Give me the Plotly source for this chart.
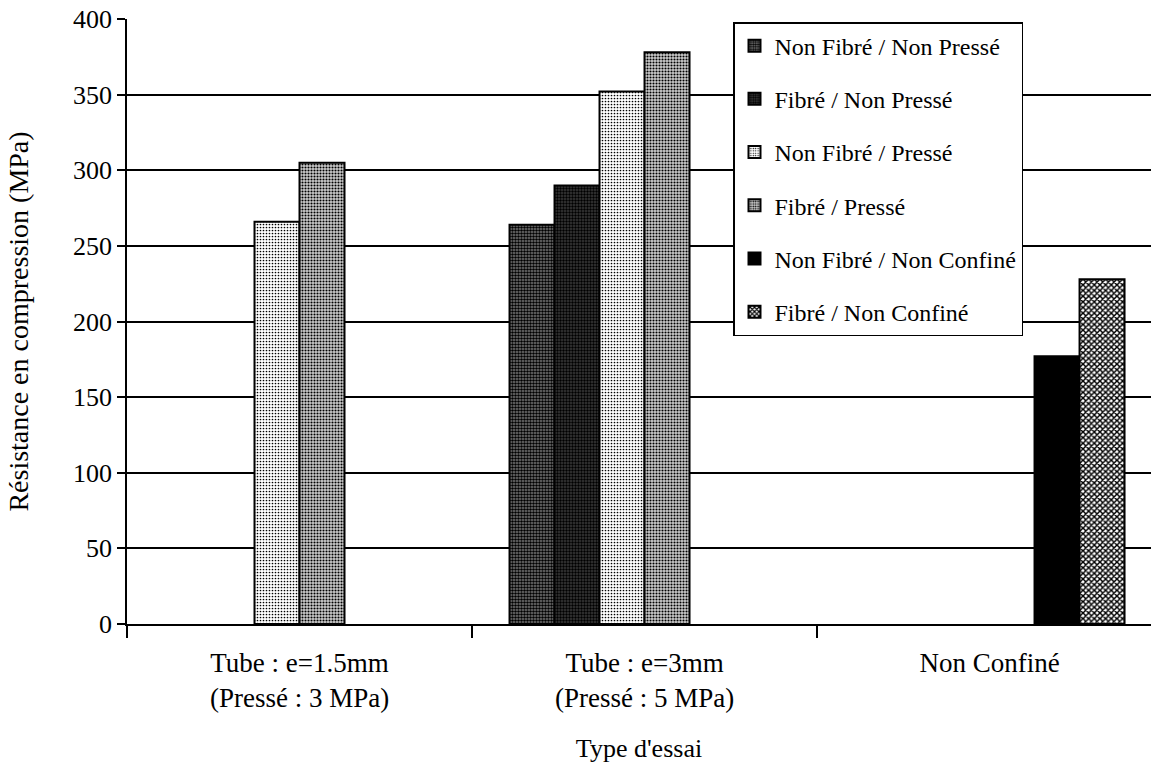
import plotly.graph_objects as go

categories = ["Tube : e=1.5mm<br>(Pressé : 3 MPa)",
              "Tube : e=3mm<br>(Pressé : 5 MPa)",
              "Non Confiné"]

series_names = ["Non Fibré / Non Pressé",
                "Fibré / Non Pressé",
                "Non Fibré / Pressé",
                "Fibré / Pressé",
                "Non Fibré / Non Confiné",
                "Fibré / Non Confiné"]

nf_np = [None, 264, None]
f_np = [None, 290, None]
nf_p = [266, 352, None]
f_p = [305, 378, None]
nf_nc = [None, None, 177]
f_nc = [None, None, 228]
values = [nf_np, f_np, nf_p, f_p, nf_nc, f_nc]

y_ticks = [0, 50, 100, 150, 200, 250, 300, 350, 400]

styles = [
    dict(color="#666666", pattern=dict(shape=".", fgcolor="#000000", bgcolor="#7a7a7a", size=3, solidity=0.55, fillmode="replace")),
    dict(color="#333333", pattern=dict(shape=".", fgcolor="#000000", bgcolor="#3a3a3a", size=3, solidity=0.5, fillmode="replace")),
    dict(color="#ffffff", pattern=dict(shape=".", fgcolor="#000000", bgcolor="#ffffff", size=3, solidity=0.25, fillmode="replace")),
    dict(color="#bbbbbb", pattern=dict(shape=".", fgcolor="#000000", bgcolor="#cfcfcf", size=3, solidity=0.4, fillmode="replace")),
    dict(color="#000000"),
    dict(color="#ffffff", pattern=dict(shape="x", fgcolor="#000000", bgcolor="#ffffff", size=4, solidity=0.6, fillmode="replace")),
]

FONT = "Liberation Serif, Times New Roman, serif"

fig = go.Figure()
for i, (name, vals, st) in enumerate(zip(series_names, values, styles)):
    marker = dict(color=st["color"], line=dict(color="#000000", width=2))
    if "pattern" in st:
        marker["pattern"] = st["pattern"]
    fig.add_trace(go.Bar(x=categories, y=vals, name=name, marker=marker,
                         legendgroup="g%d" % i))

fig.update_layout(
    width=1151, height=763,
    barmode="group", bargap=0.2174, bargroupgap=0,
    paper_bgcolor="#ffffff", plot_bgcolor="#ffffff",
    margin=dict(l=127, r=0, t=19, b=139),
    font=dict(family=FONT, color="#000000", size=25),
    showlegend=True,
    legend=dict(
        x=0.5918, y=0.995, xanchor="left", yanchor="top",
        bgcolor="#ffffff", bordercolor="#000000", borderwidth=1.5,
        font=dict(family=FONT, size=24, color="#000000"),
        tracegroupgap=19, itemsizing="constant",
    ),
    xaxis=dict(
        type="category", range=[-0.5, 2.468],
        showline=True, linecolor="#000000", linewidth=1.5,
        ticks="outside", tickson="boundaries", ticklen=12, tickcolor="#000000", tickwidth=1.5,
        showgrid=False, ticklabelstandoff=14,
        tickfont=dict(family=FONT, size=27),
        title=dict(text="Type d'essai", font=dict(family=FONT, size=26), standoff=28),
    ),
    yaxis=dict(
        range=[0, 400], tickvals=y_ticks,
        showline=True, linecolor="#000000", linewidth=1.5,
        ticks="outside", ticklen=8, tickcolor="#000000", tickwidth=1.5,
        showgrid=True, gridcolor="#000000", gridwidth=1.5,
        zeroline=False,
        tickfont=dict(family=FONT, size=26),
        title=dict(text="Résistance en compression (MPa)", font=dict(family=FONT, size=28), standoff=36),
    ),
)

fig.write_html("out.html")
